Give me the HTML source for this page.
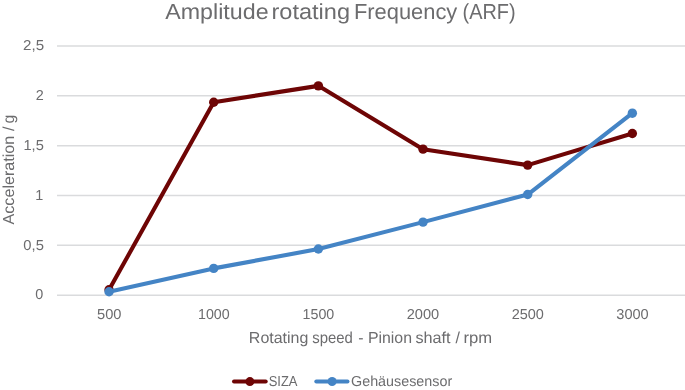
<!DOCTYPE html>
<html lang="en"><head><meta charset="utf-8"><title>Amplitude rotating Frequency (ARF)</title>
<style>
html,body{margin:0;padding:0;background:#fff;}
body{width:685px;height:390px;overflow:hidden;}
svg{display:block;}
text{font-family:"Liberation Sans",Arial,sans-serif;fill:#6c6c6e;text-rendering:geometricPrecision;}
</style></head><body>
<svg width="685" height="390" viewBox="0 0 685 390">
<rect width="685" height="390" fill="#ffffff"/>
<line x1="57" x2="685" y1="46.00" y2="46.00" stroke="#dadbdd" stroke-width="1.5"/>
<line x1="57" x2="685" y1="95.85" y2="95.85" stroke="#dadbdd" stroke-width="1.5"/>
<line x1="57" x2="685" y1="145.70" y2="145.70" stroke="#dadbdd" stroke-width="1.5"/>
<line x1="57" x2="685" y1="195.50" y2="195.50" stroke="#dadbdd" stroke-width="1.5"/>
<line x1="57" x2="685" y1="245.35" y2="245.35" stroke="#dadbdd" stroke-width="1.5"/>
<line x1="57" x2="685" y1="295.20" y2="295.20" stroke="#dadbdd" stroke-width="1.5"/>
<polyline points="109.05,289.82 213.71,102.22 318.37,85.87 423.03,149.17 527.69,165.12 632.35,133.52" fill="none" stroke="#6e0505" stroke-width="4.1" stroke-linejoin="round" stroke-linecap="round"/>
<circle cx="109.05" cy="289.82" r="4.7" fill="#6e0505"/>
<circle cx="213.71" cy="102.22" r="4.7" fill="#6e0505"/>
<circle cx="318.37" cy="85.87" r="4.7" fill="#6e0505"/>
<circle cx="423.03" cy="149.17" r="4.7" fill="#6e0505"/>
<circle cx="527.69" cy="165.12" r="4.7" fill="#6e0505"/>
<circle cx="632.35" cy="133.52" r="4.7" fill="#6e0505"/>
<polyline points="109.05,291.71 213.71,268.39 318.37,249.05 423.03,222.13 527.69,194.52 632.35,113.18" fill="none" stroke="#4484c5" stroke-width="4.1" stroke-linejoin="round" stroke-linecap="round"/>
<circle cx="109.05" cy="291.71" r="4.7" fill="#4484c5"/>
<circle cx="213.71" cy="268.39" r="4.7" fill="#4484c5"/>
<circle cx="318.37" cy="249.05" r="4.7" fill="#4484c5"/>
<circle cx="423.03" cy="222.13" r="4.7" fill="#4484c5"/>
<circle cx="527.69" cy="194.52" r="4.7" fill="#4484c5"/>
<circle cx="632.35" cy="113.18" r="4.7" fill="#4484c5"/>
<text y="19.00" font-size="21.8"><tspan x="165.27" textLength="103.32" lengthAdjust="spacingAndGlyphs">Amplitude</tspan> <tspan x="271.45" textLength="78.55" lengthAdjust="spacingAndGlyphs">rotating</tspan> <tspan x="353.94" textLength="103.34" lengthAdjust="spacingAndGlyphs">Frequency</tspan> <tspan x="462.51" textLength="53.06" lengthAdjust="spacingAndGlyphs">(ARF)</tspan></text>
<text y="343.00" font-size="15.9"><tspan x="248.89" textLength="59.46" lengthAdjust="spacingAndGlyphs">Rotating</tspan> <tspan x="312.19" textLength="40.62" lengthAdjust="spacingAndGlyphs">speed</tspan> <tspan x="358.24">-</tspan> <tspan x="367.93" textLength="44.08" lengthAdjust="spacingAndGlyphs">Pinion</tspan> <tspan x="415.48" textLength="35.15" lengthAdjust="spacingAndGlyphs">shaft</tspan> <tspan x="455.40">/</tspan> <tspan x="463.55" textLength="28.68" lengthAdjust="spacingAndGlyphs">rpm</tspan></text>
<text transform="translate(14.00,0) rotate(-90)" font-size="15.9"><tspan x="-224.43" textLength="88.63" lengthAdjust="spacingAndGlyphs">Acceleration</tspan> <tspan x="-131.04">/</tspan> <tspan x="-123.43">g</tspan></text>
<text x="23.08" y="50.00" font-size="14.4" textLength="21.04" lengthAdjust="spacingAndGlyphs">2,5</text>
<text x="35.74" y="99.85" font-size="14.4">2</text>
<text x="23.47" y="149.70" font-size="14.4" textLength="20.36" lengthAdjust="spacingAndGlyphs">1,5</text>
<text x="35.22" y="199.50" font-size="14.4">1</text>
<text x="23.35" y="250.00" font-size="14.4" textLength="20.54" lengthAdjust="spacingAndGlyphs">0,5</text>
<text x="35.35" y="299.30" font-size="14.4">0</text>
<text x="97.06" y="318.90" font-size="14.4" textLength="24.46" lengthAdjust="spacingAndGlyphs">500</text>
<text x="197.99" y="318.90" font-size="14.4" textLength="31.70" lengthAdjust="spacingAndGlyphs">1000</text>
<text x="302.55" y="318.90" font-size="14.4" textLength="31.70" lengthAdjust="spacingAndGlyphs">1500</text>
<text x="406.68" y="318.90" font-size="14.4" textLength="32.52" lengthAdjust="spacingAndGlyphs">2000</text>
<text x="511.63" y="318.90" font-size="14.4" textLength="32.21" lengthAdjust="spacingAndGlyphs">2500</text>
<text x="616.32" y="318.90" font-size="14.4" textLength="32.41" lengthAdjust="spacingAndGlyphs">3000</text>
<text x="268.72" y="385.70" font-size="14.4" textLength="28.80" lengthAdjust="spacingAndGlyphs">SIZA</text>
<text x="351.03" y="385.70" font-size="14.4" textLength="101.18" lengthAdjust="spacingAndGlyphs">Gehäusesensor</text>
<line x1="234" x2="265.7" y1="381.6" y2="381.6" stroke="#6e0505" stroke-width="4.0" stroke-linecap="round"/><circle cx="249.9" cy="381.6" r="4.5" fill="#6e0505"/>
<line x1="316.3" x2="347.5" y1="381.5" y2="381.5" stroke="#4484c5" stroke-width="4.0" stroke-linecap="round"/><circle cx="332.1" cy="381.5" r="4.5" fill="#4484c5"/>
</svg></body></html>
